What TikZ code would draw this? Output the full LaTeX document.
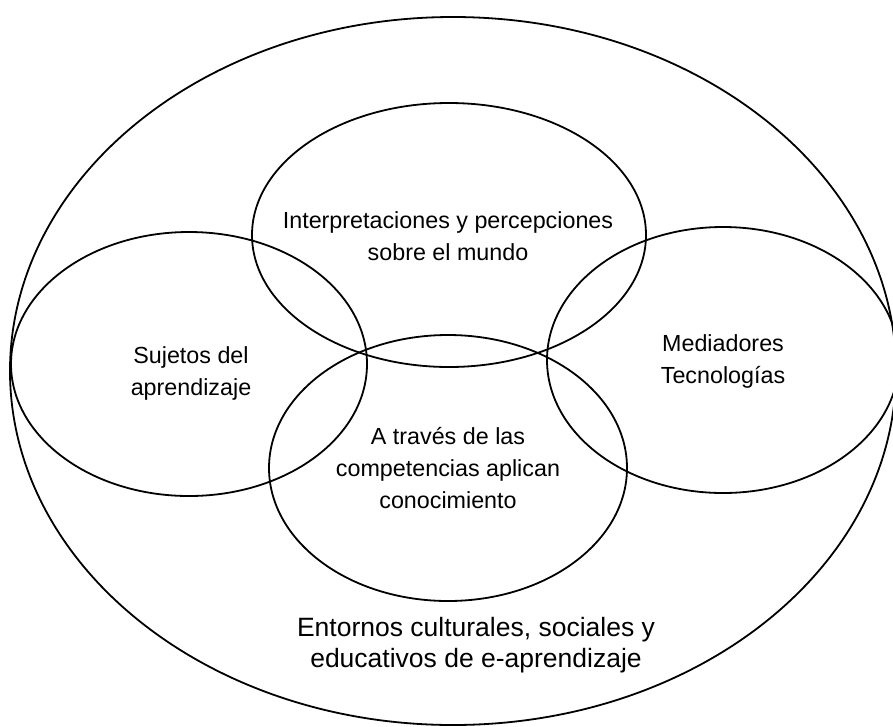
\documentclass[tikz,border=0pt]{standalone}
\usepackage{fontspec}
\setmainfont{Liberation Sans}
\begin{document}
\begin{tikzpicture}[x=1pt,y=-1pt,
  ring/.style={draw=black,line width=1.8pt},
  inner/.style={align=center,font=\fontsize{23.3}{32}\selectfont,inner sep=0pt},
  outerlbl/.style={align=center,font=\fontsize{26.5}{31}\selectfont,inner sep=0pt}]
\useasboundingbox (0,0) rectangle (893,726);
\clip (0,0) rectangle (893,726);
% outer environment
\draw[ring] (453,371) ellipse [x radius=443, y radius=354];
% four inner ellipses
\draw[ring] (449,235) ellipse [x radius=197, y radius=132];
\draw[ring] (189,364) ellipse [x radius=178, y radius=132];
\draw[ring] (723,360) ellipse [x radius=176, y radius=133];
\draw[ring] (448,468) ellipse [x radius=179, y radius=133];
% labels
\node[inner] (interp) at (448,236.5) {Interpretaciones y percepciones\\sobre el mundo};
\node[inner] (sujetos) at (191,373.5) {Sujetos del\\aprendizaje};
\node[inner] (mediad) at (723,361.5) {Mediadores\\Tecnologías};
\node[inner] (comp) at (448,468) {A través de las\\competencias aplican\\conocimiento};
\node[outerlbl] (entornos) at (476,645.5) {Entornos culturales, sociales y\\educativos de e-aprendizaje};
\end{tikzpicture}
\end{document}
